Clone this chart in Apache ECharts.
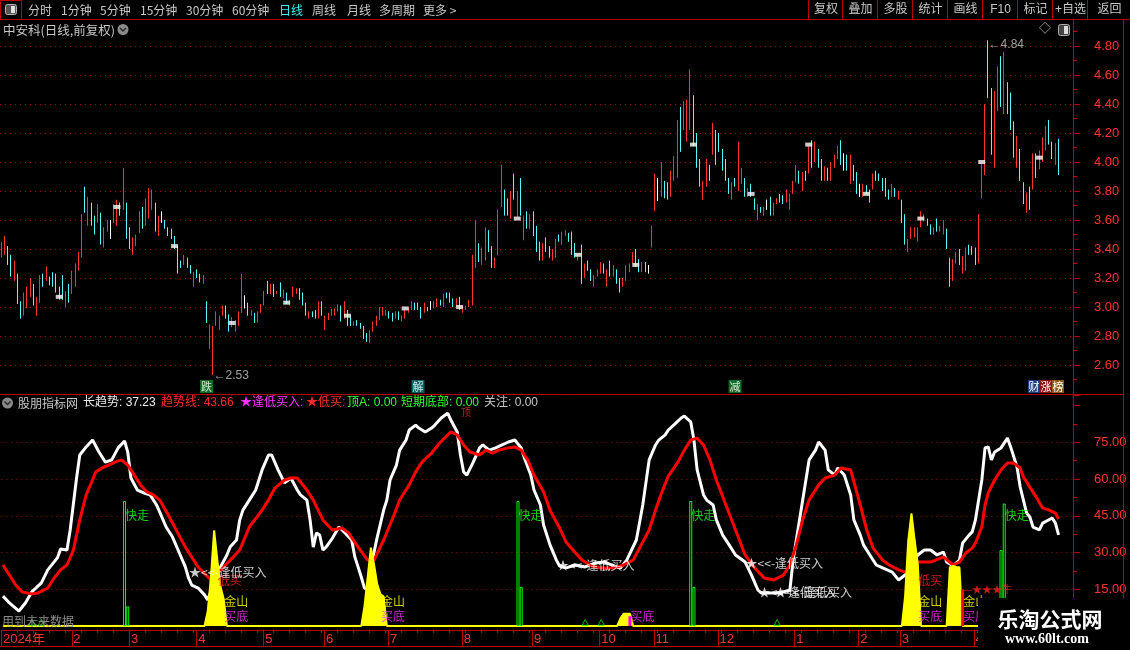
<!DOCTYPE html>
<html>
<head>
<meta charset="utf-8">
<title>中安科</title>
<script src="https://cdn.jsdelivr.net/npm/echarts/dist/echarts.min.js"></script>
<style>
html,body{margin:0;padding:0;background:#000;overflow:hidden}
#chart{width:1130px;height:650px}
</style>
</head>
<body>
<div id="chart"></div>
<script>
// ================= DATA =================
const categoryCount = 335;
// r = up (red), c = down (cyan), w = flat (white)
const barDir =
"rrccrccrrr"+"crrcrccccc"+"rcrrrrcrcc"+"rcrrwrrcrc"+"crrrcrrrcr"+
"wccccccrcc"+"rccrcrrrrr"+"ccrrrrwcrc"+"rrrcrcrcrc"+"rrrcccrccr"+
"crrrrrcrcc"+"rccccrrrrr"+"rccrcrrrrc"+"ccrcwrrcrc"+"ccrcrrrrrc"+
"rrccrrrccr"+"crcrcrcccr"+"ccrrcrrccc"+"rcrccrrrcr"+"crccrrrrcc"+
"rcwrrwrccr"+"rrcrrrcccr"+"rcrcccccrc"+"rrcrccrcrw"+"crrccrrrrc"+
"rcrcrccrcr"+"rrcwcrccwr"+"ccrcccccrc"+"rccrrrrrrc"+"crcrrccrrc"+
"rrcccrrrcc"+"rrcrcccrcc"+"rcrcrrrccrc";
const barHigh = [
3.45,3.49,3.42,3.36,3.32,3.23,3.04,3.10,3.14,3.20,
3.16,3.07,3.22,3.23,3.28,3.21,3.24,3.23,3.14,3.22,
3.11,3.16,3.25,3.30,3.38,3.64,3.83,3.76,3.72,3.63,
3.71,3.65,3.55,3.60,3.60,3.71,3.74,3.72,3.96,3.72,
3.55,3.48,3.50,3.66,3.69,3.75,3.82,3.81,3.72,3.63,
3.66,3.60,3.55,3.54,3.49,3.42,3.32,3.36,3.34,3.29,
3.24,3.26,3.23,3.22,3.04,2.88,2.87,2.97,2.94,3.01,
3.01,2.95,2.93,2.91,2.97,3.23,3.08,3.03,2.98,2.96,
2.97,3.02,3.11,3.18,3.16,3.16,3.11,3.17,3.12,3.10,
3.05,3.14,3.13,3.13,3.10,3.03,2.97,2.97,2.98,3.04,
3.04,2.94,2.96,2.99,2.99,3.02,3.01,3.04,2.98,2.94,
2.90,2.91,2.89,2.87,2.82,2.84,2.90,2.94,3.00,3.00,
2.98,2.97,2.96,2.97,2.97,2.94,2.99,3.00,3.04,3.03,
3.03,3.00,3.03,3.00,3.04,3.04,3.06,3.05,3.09,3.10,
3.10,3.06,3.06,3.07,3.01,3.01,3.05,3.36,3.60,3.44,
3.41,3.55,3.53,3.42,3.34,3.67,3.98,3.81,3.75,3.80,
3.92,3.80,3.89,3.63,3.66,3.64,3.66,3.56,3.45,3.44,
3.48,3.42,3.40,3.47,3.50,3.52,3.53,3.51,3.52,3.44,
3.37,3.43,3.30,3.32,3.26,3.22,3.26,3.31,3.30,3.26,
3.32,3.29,3.26,3.20,3.20,3.29,3.30,3.38,3.40,3.33,
3.31,3.31,3.29,3.56,3.92,3.89,4.00,3.87,3.86,3.94,
4.04,4.29,4.38,4.42,4.43,4.64,4.46,4.20,4.02,3.87,
4.02,3.98,4.27,4.22,4.20,4.09,4.02,3.89,3.86,3.89,
4.14,3.96,3.89,3.82,3.85,3.75,3.71,3.69,3.69,3.74,
3.76,3.72,3.75,3.78,3.77,3.81,3.78,3.87,3.98,3.94,
3.93,3.94,4.11,4.15,4.14,4.09,4.02,3.97,3.96,4.00,
4.05,4.11,4.15,4.06,4.05,4.05,3.98,3.93,3.85,3.85,
3.84,3.81,3.92,3.94,3.92,3.89,3.89,3.81,3.85,3.82,
3.80,3.74,3.64,3.47,3.55,3.55,3.55,3.66,3.64,3.61,
3.57,3.55,3.61,3.56,3.60,3.54,3.34,3.33,3.38,3.40,
3.35,3.41,3.43,3.42,3.41,3.64,3.99,4.40,4.84,4.51,
4.49,4.66,4.73,4.76,4.55,4.48,4.28,4.18,4.09,3.86,
3.79,3.83,4.06,4.06,4.08,4.17,4.25,4.29,4.14,4.13,4.16];
const barLow = [
3.34,3.36,3.29,3.21,3.18,3.02,2.92,2.94,2.99,3.07,
3.01,2.94,3.03,3.14,3.18,3.15,3.14,3.10,3.05,3.05,
3.00,3.03,3.09,3.14,3.25,3.34,3.65,3.56,3.56,3.50,
3.58,3.43,3.41,3.52,3.47,3.58,3.56,3.63,3.67,3.47,
3.40,3.36,3.42,3.51,3.54,3.56,3.61,3.67,3.52,3.49,
3.58,3.54,3.49,3.47,3.40,3.23,3.27,3.29,3.27,3.23,
3.14,3.20,3.17,3.16,2.89,2.71,2.53,2.87,2.84,2.94,
2.92,2.83,2.86,2.83,2.87,2.96,2.99,2.94,2.94,2.89,
2.89,2.96,3.01,3.09,3.09,3.07,3.09,3.07,3.06,3.02,
3.01,3.07,3.09,3.05,3.01,2.94,2.92,2.93,2.92,2.92,
2.94,2.84,2.91,2.94,2.94,2.97,2.90,2.92,2.87,2.87,
2.87,2.87,2.85,2.78,2.76,2.75,2.83,2.87,2.91,2.94,
2.94,2.92,2.90,2.92,2.91,2.90,2.92,2.96,2.98,2.98,
2.98,2.92,2.96,2.97,2.98,2.99,3.00,3.01,3.00,3.06,
3.03,3.00,3.00,2.98,2.96,2.98,3.00,3.01,3.27,3.31,
3.29,3.32,3.38,3.27,3.27,3.36,3.69,3.63,3.63,3.61,
3.74,3.62,3.63,3.46,3.54,3.54,3.49,3.38,3.32,3.32,
3.38,3.34,3.32,3.34,3.45,3.43,3.49,3.45,3.36,3.34,
3.32,3.16,3.20,3.25,3.18,3.14,3.21,3.23,3.23,3.14,
3.21,3.21,3.16,3.10,3.14,3.18,3.24,3.30,3.28,3.24,
3.24,3.24,3.23,3.41,3.66,3.73,3.76,3.75,3.74,3.76,
3.87,3.89,4.07,4.22,4.14,4.22,4.11,3.96,3.83,3.74,
3.83,3.87,4.05,3.98,4.07,3.94,3.87,3.78,3.74,3.83,
3.80,3.85,3.76,3.76,3.76,3.67,3.60,3.65,3.63,3.67,
3.63,3.63,3.71,3.72,3.71,3.72,3.67,3.78,3.86,3.85,
3.80,3.87,3.92,3.96,4.00,3.96,3.87,3.87,3.87,3.87,
3.96,4.02,3.98,3.94,3.94,3.85,3.87,3.78,3.76,3.76,
3.78,3.72,3.81,3.87,3.87,3.80,3.76,3.74,3.76,3.76,
3.74,3.58,3.43,3.38,3.47,3.48,3.45,3.55,3.59,3.56,
3.50,3.50,3.52,3.52,3.50,3.40,3.14,3.18,3.30,3.29,
3.23,3.25,3.36,3.36,3.29,3.30,3.75,3.91,4.44,4.05,
3.96,4.35,4.38,4.33,4.33,4.22,4.03,3.96,3.87,3.71,
3.65,3.67,3.81,3.89,3.95,4.00,4.08,4.12,4.02,3.98,3.91];
// white square markers [bar, price]
const squareMarks = [[18,3.07],[36,3.69],[54,3.42],[72,2.89],[89,3.03],[108,2.94],[126,2.99],[143,3.00],[161,3.61],[180,3.36],[198,3.29],[216,4.12],[234,3.78],[252,4.12],[270,3.78],[287,3.61],[306,4.00],[324,4.03]];
const lowMark = [66, 2.53];
const highMark = [308, 4.84];
// event boxes under the price panel
const eventBoxes = [[64,'跌','#118a2e'],[130,'解','#0e7d7d'],[229,'减','#118a2e']];

// indicator: 长趋势 (white) and 趋势线 (red), [bar, value]
const longTrend = [[0,12.2],[2,9.4],[5,6.1],[7,9.4],[9,13.9],[12,17.6],[14,22.9],[17,27.8],[18,31.4],[20,31.0],[21,39.2],[23,60.4],[24,69.8],[26,73.1],[28,75.9],[30,71.0],[32,66.9],[34,67.8],[36,72.7],[38,75.5],[39,71.0],[40,60.4],[42,55.5],[44,54.3],[46,53.5],[48,49.4],[49,46.5],[51,40.4],[53,36.3],[55,30.2],[57,24.1],[58,19.6],[59,16.7],[61,15.5],[63,12.7],[64,10.6],[66,17.6],[68,24.1],[70,29.0],[71,32.2],[73,35.1],[74,43.3],[75,47.3],[77,51.4],[79,55.5],[81,63.7],[83,69.8],[84,69.8],[86,63.7],[88,58.4],[90,60.4],[92,55.5],[93,53.5],[95,51.4],[96,43.3],[97,32.2],[98,38.0],[99,37.1],[100,31.0],[101,32.2],[103,35.9],[105,40.4],[106,39.2],[109,35.1],[110,28.2],[112,20.0],[113,15.5],[114,14.7],[115,24.1],[117,36.3],[119,47.3],[120,51.4],[121,59.6],[123,65.7],[124,71.8],[126,75.9],[127,80.0],[129,82.0],[130,80.8],[132,79.2],[134,80.8],[135,82.0],[137,84.9],[139,86.9],[140,84.1],[142,79.2],[143,69.8],[144,62.9],[145,61.6],[147,66.9],[149,72.7],[150,73.9],[152,71.8],[154,72.7],[156,73.9],[158,75.1],[160,75.9],[162,72.7],[163,68.6],[165,61.6],[166,55.5],[168,49.4],[169,41.2],[171,33.1],[173,26.9],[174,24.5],[176,23.7],[179,24.9],[182,24.1],[185,25.7],[188,26.1],[191,24.5],[193,23.7],[195,26.9],[198,35.1],[200,49.4],[202,67.8],[204,73.9],[205,75.9],[207,78.0],[208,80.0],[210,82.4],[212,84.9],[213,85.7],[215,83.3],[216,75.9],[217,63.7],[219,53.5],[220,51.4],[222,49.4],[223,43.3],[225,37.1],[227,33.1],[229,29.0],[232,26.1],[234,20.8],[236,14.7],[237,13.5],[240,13.5],[243,13.5],[246,14.7],[247,26.9],[249,43.3],[251,59.6],[252,67.8],[254,71.8],[255,75.1],[257,71.8],[258,63.7],[260,61.6],[261,64.5],[263,61.6],[265,53.5],[266,43.3],[268,37.1],[269,33.1],[271,29.0],[273,24.9],[275,23.7],[278,22.0],[280,18.8],[282,20.8],[284,24.9],[286,29.0],[288,31.0],[290,31.0],[292,29.0],[294,30.2],[295,26.1],[297,24.5],[299,26.9],[300,33.9],[302,37.1],[303,38.4],[304,43.3],[306,59.6],[307,72.7],[308,73.1],[309,67.8],[310,71.0],[312,72.7],[314,76.7],[315,73.1],[317,64.9],[318,56.7],[320,46.1],[321,44.5],[322,40.4],[324,39.2],[325,42.0],[328,44.1],[329,42.0],[330,37.23]];
const trendLine = [[0,24.9],[2,20.8],[4,16.7],[6,13.9],[9,13.1],[11,13.5],[14,15.5],[16,19.6],[18,22.9],[20,24.9],[22,31.0],[24,43.3],[26,53.5],[28,59.6],[29,62.9],[31,64.5],[33,65.7],[35,66.9],[37,67.8],[39,65.7],[40,63.7],[43,57.6],[45,54.7],[47,53.5],[49,51.4],[52,44.5],[57,32.2],[61,24.1],[65,18.8],[69,24.1],[72,28.2],[74,31.0],[77,40.4],[81,47.3],[83,51.4],[85,56.3],[88,59.6],[90,60.4],[92,60.4],[95,55.5],[97,51.4],[100,43.3],[103,39.2],[106,40.0],[108,38.0],[111,32.2],[114,26.9],[116,26.9],[119,35.1],[122,44.5],[124,51.4],[127,57.6],[129,62.9],[131,66.9],[134,70.6],[136,73.9],[138,76.7],[140,79.2],[142,78.0],[144,73.9],[146,71.0],[149,69.8],[151,71.8],[153,70.6],[155,71.8],[158,72.7],[160,73.1],[162,71.8],[164,67.8],[166,61.6],[169,54.7],[171,47.3],[174,40.0],[176,34.3],[179,29.8],[181,26.9],[184,24.5],[187,23.7],[190,23.7],[192,24.1],[194,24.9],[197,26.9],[199,31.8],[202,39.2],[204,47.3],[206,54.7],[208,61.2],[211,66.9],[213,71.8],[215,75.9],[217,76.7],[219,73.9],[221,67.8],[223,59.6],[226,49.4],[229,39.2],[232,29.0],[235,23.7],[238,19.6],[241,18.8],[244,20.8],[246,24.9],[248,33.1],[250,43.3],[252,51.4],[255,57.6],[257,60.4],[260,61.6],[262,64.5],[265,63.7],[266,58.8],[268,49.4],[270,39.2],[272,31.8],[275,26.9],[277,24.9],[280,22.9],[282,22.0],[284,23.7],[286,26.1],[290,26.1],[294,28.2],[297,24.9],[299,26.1],[301,29.8],[303,31.8],[304,33.9],[306,40.4],[307,49.4],[308,54.3],[310,59.6],[312,63.7],[314,66.5],[316,66.5],[318,64.5],[319,60.8],[321,56.7],[323,52.7],[325,48.2],[327,47.3],[329,46.1],[330,43.66]];
// yellow "金山" spikes (zero elsewhere)
const goldHill = [[0,0],[63,0],[64,6],[65,20],[66,39],[67,27],[68,16],[69,11],[70,0],[112,0],[113,8],[114,20],[115,32],[116,25],[117,17],[118,13],[119,12],[120,0],[192,0],[193,3],[194,5],[195,5],[196,5],[197,0],[281,0],[282,12],[283,35],[284,46],[285,35],[286,25],[287,0],[295,0],[296,24],[297,24.5],[298,24],[299,24],[300,0],[334,0]];
// 快走 signal columns [bar, value]
const quickBars = [[38,51],[39,8],[161,51],[162,16],[215,51],[216,16],[312,31],[313,50]];
const quickLabels = [[38,45],[161,45],[215,45],[313,45]];
const pinkBar = [196,4];
const redBar = [300,15];
const smallTriangles = [[9,1.5],[12,1.5],[182,1.5],[187,1.5],[242,1.5]];
const jinshanLabels = [[69,10.2],[118,10.2],[286,10.2],[300,10.2]];
const maidiLabels = [[69,4.1],[118,4.1],[196,4.1],[286,4.1],[300,4.1]];
const dimaiLabels = [[67,18.4],[286,18.4]];
const fengdiLabels = [[58,22.0],[173,24.9],[232,25.7],[236,13.5],[241,13.5]];
const starLabel = [300,15.1];
const topLabel = [143,87.3];
// axis tick labels
const monthStarts = [0,22,40,61,82,101,121,144,166,187,204,224,248,268,281,304];
const monthNames = ['2024年','2','3','4','5','6','7','8','9','10','11','12','1','2','3','4'];
const priceMin = 2.4, priceMax = 5.0, priceStep = 0.2;
const indMin = 0, indMax = 94, indStep = 15;

// ================= BUILD =================
const cats = Array.from({length: categoryCount}, (_, i) => String(i));
const monthMap = {};
monthStarts.forEach((m, k) => monthMap[m] = monthNames[k]);
const UP = '#ff3232', DN = '#54fcfc';
const candleData = barHigh.map((h, i) => {
  const l = barLow[i], d = barDir[i];
  if (d === 'r') return [l, h, l, h];
  if (d === 'c') return [h, l, l, h];
  const m = +((h + l) / 2).toFixed(3);
  return {value: [m, m, l, h], itemStyle: {color: '#fff', color0: '#fff', borderColor: '#fff', borderColor0: '#fff'}};
});
const NUMF = "'Liberation Sans','Noto Sans CJK SC'";
const CJK = "'Noto Sans CJK SC'";
const GRID_RED = '#8e1010';
const AX_RED = '#b80000';
const T0 = 'rgba(0,0,0,0)';
function splitColors(n) { const a = [T0]; for (let i = 0; i < n - 2; i++) a.push(GRID_RED); a.push(T0); return a; }
const nPriceLines = Math.round((priceMax - priceMin) / priceStep) + 1;
const nIndLines = Math.floor((indMax - indMin) / indStep) + 1;

function labelItems(list, text, color, size) {
  return list.map(p => ({value: p, label: {formatter: text, color: color, fontSize: size || 12}}));
}
const noteData = [].concat(
  labelItems(jinshanLabels, '金山', '#ffff00'),
  labelItems(maidiLabels, '买底', '#ff32ff'),
  labelItems(dimaiLabels, '低买', '#ff2020'),
  labelItems(fengdiLabels, '★<<-逢低买入', '#ffffff'),
  labelItems(quickLabels, '快走', '#22ff22'),
  [{value: starLabel, label: {formatter: '—★★★牛', color: '#ff2020', fontSize: 10}}],
  [{value: topLabel, label: {formatter: '顶', color: '#ff2020', fontSize: 10}}]
);
const signalData = quickBars.map(p => ({value: p, itemStyle: {color: T0, borderColor: '#00ff00', borderWidth: 1}}))
  .concat([{value: pinkBar, itemStyle: {color: '#ff00ff'}}, {value: redBar, itemStyle: {color: '#ff0000'}}]);

// ================= GRAPHICS (chrome) =================
const G = [];
function txt(x, y, text, fill, size, align, font, weight) {
  G.push({type: 'text', x: x, y: y, z: 110, silent: true, style: {
    text: text, fill: fill, font: (weight || 'normal') + ' ' + (size || 12) + 'px ' + (font || NUMF),
    textAlign: align || 'left', textVerticalAlign: 'middle', align: align || 'left', verticalAlign: 'middle'}});
}
function ln(x1, y1, x2, y2, c, w, z) {
  G.push({type: 'line', z: z || 105, silent: true, shape: {x1: x1, y1: y1, x2: x2, y2: y2}, style: {stroke: c, lineWidth: w || 1}});
}
function rect(x, y, w, h, fill, stroke, z) {
  G.push({type: 'rect', z: z || 104, silent: true, shape: {x: x, y: y, width: w, height: h}, style: {fill: fill, stroke: stroke || null, lineWidth: 1}});
}
// toolbar
rect(0, 0, 1130, 20, '#000', null, 100);
ln(0, 19.5, 1130, 19.5, AX_RED);
rect(0.5, 0.5, 21, 19, T0, AX_RED, 105);
G.push({type: 'rect', z: 106, silent: true, shape: {x: 5.5, y: 4.5, width: 11, height: 10, r: 2}, style: {fill: '#555', stroke: '#b4b4b4', lineWidth: 1}});
rect(11, 6, 4, 7, '#e0e0e0', null, 107);
const tbItems = [[28,'分时'],[61,'1分钟'],[100,'5分钟'],[140,'15分钟'],[186,'30分钟'],[232,'60分钟'],[279,'日线'],[312,'周线'],[347,'月线'],[379,'多周期'],[423,'更多 >']];
tbItems.forEach(it => txt(it[0], 10, it[1], it[1] === '日线' ? '#40f0f0' : '#c8c8c8', 12, 'left', CJK));
const seps = [808, 842, 877, 912, 947, 982, 1017, 1052, 1087, 1130];
const btns = ['复权','叠加','多股','统计','画线','F10','标记','+自选','返回'];
seps.forEach((s, k) => { if (k < seps.length - 1) ln(s + 0.5, 0, s + 0.5, 19.5, AX_RED); });
btns.forEach((b, k) => txt((seps[k] + seps[k + 1]) / 2 + 1, 10, b, '#c8c8c8', 12, 'center', NUMF));
// title
txt(3, 30, '中安科(日线,前复权)', '#c8c8c8', 12.5, 'left', CJK);
G.push({type: 'circle', z: 106, silent: true, shape: {cx: 123, cy: 29.5, r: 5.5}, style: {fill: '#8a8a8a'}});
G.push({type: 'polyline', z: 107, silent: true, shape: {points: [[120, 28], [123, 31], [126, 28]]}, style: {stroke: '#2a2a2a', lineWidth: 1.5, fill: null}});
txt(1045, 30, '◇', '#b4b4b4', 12, 'center', NUMF);
G.push({type: 'rect', z: 106, silent: true, shape: {x: 1058.5, y: 24.5, width: 11, height: 11, r: 2}, style: {fill: '#444', stroke: '#aaa', lineWidth: 1}});
rect(1064, 26, 4, 8, '#ddd', null, 107);
// frame lines
ln(1073.5, 20, 1073.5, 650, AX_RED);
ln(1123.5, 20, 1123.5, 650, AX_RED);
ln(0, 394.5, 1123.5, 394.5, AX_RED);
ln(0, 646.5, 1073.5, 646.5, AX_RED);
// 财涨榜 badge
rect(1028, 380, 12, 13, '#1d3f80', null, 104);
rect(1040, 380, 12, 13, '#8e1212', null, 104);
rect(1052, 380, 12, 13, '#8e5a12', null, 104);
txt(1034, 387, '财', '#fff', 11, 'center', CJK);
txt(1046, 387, '涨', '#fff', 11, 'center', CJK);
txt(1058, 387, '榜', '#fff', 11, 'center', CJK);
// indicator legend row
G.push({type: 'circle', z: 106, silent: true, shape: {cx: 7.5, cy: 403, r: 5.5}, style: {fill: '#8a8a8a'}});
G.push({type: 'polyline', z: 107, silent: true, shape: {points: [[4.5, 401.5], [7.5, 404.5], [10.5, 401.5]]}, style: {stroke: '#2a2a2a', lineWidth: 1.5, fill: null}});
txt(18, 403, '股朋指标网', '#c8c8c8', 12, 'left', CJK);
txt(83, 403, '长趋势: ' + longTrend[longTrend.length - 1][1].toFixed(2), '#ececec', 12);
txt(161, 403, '趋势线: ' + trendLine[trendLine.length - 1][1].toFixed(2), '#ff2828', 12);
txt(240, 403, '★逢低买入:', '#ff32ff', 12);
txt(306, 403, '★低买:', '#ff2828', 12);
txt(347, 403, '顶A: 0.00', '#32ff32', 12);
txt(401, 403, '短期底部: 0.00', '#32ff32', 12);
txt(484, 403, '关注: 0.00', '#c8c8c8', 12);
txt(2, 621, '用到未来数据', '#8c8c8c', 12, 'left', CJK);
// watermark box
rect(978, 598, 152, 52, '#000', null, 120);
G.push({type: 'text', x: 1050, y: 619, z: 121, silent: true, style: {text: '乐淘公式网', fill: '#fff', font: 'bold 21px ' + CJK, textAlign: 'center', textVerticalAlign: 'middle', align: 'center', verticalAlign: 'middle'}});
G.push({type: 'text', x: 1047, y: 639, z: 121, silent: true, style: {text: 'www.60lt.com', fill: '#fff', font: 'bold 14px "Liberation Serif"', textAlign: 'center', textVerticalAlign: 'middle', align: 'center', verticalAlign: 'middle'}});

// ================= OPTION =================
const chart = echarts.init(document.getElementById('chart'), null, {renderer: 'canvas'});
const option = {
  backgroundColor: '#000',
  animation: false,
  textStyle: {fontFamily: NUMF},
  grid: [
    {left: 0, right: 57, top: 17, height: 377},
    {left: 0, right: 57, top: 395.7, bottom: 24}
  ],
  xAxis: [
    {type: 'category', gridIndex: 0, data: cats, boundaryGap: true, show: false},
    {type: 'category', gridIndex: 1, data: cats, boundaryGap: true, axisLine: {show: false}, axisTick: {show: false}, axisLabel: {show: false}},
    {type: 'category', gridIndex: 1, data: cats, boundaryGap: true, position: 'bottom', offset: 4,
      axisLine: {show: true, lineStyle: {color: AX_RED, width: 1}},
      axisTick: {show: true, length: 16, lineStyle: {color: AX_RED}, interval: (i) => monthMap[i] !== undefined},
      axisLabel: {show: true, interval: (i) => monthMap[i] !== undefined, formatter: (v, i) => monthMap[i] || '',
        color: '#ff3232', fontSize: 13, align: 'left', margin: 3, fontFamily: NUMF}},
    {type: 'category', gridIndex: 1, data: cats, boundaryGap: true, position: 'bottom', offset: 4,
      axisLine: {show: false},
      axisTick: {show: true, length: 3, lineStyle: {color: AX_RED}, interval: (i) => i % 5 === 0 && monthMap[i] === undefined},
      axisLabel: {show: false}}
  ],
  yAxis: [
    {type: 'value', gridIndex: 0, position: 'right', min: priceMin, max: priceMax, interval: priceStep,
      axisLine: {show: true, lineStyle: {color: AX_RED}},
      axisTick: {show: true, length: 7, lineStyle: {color: AX_RED}},
      minorTick: {show: true, splitNumber: 2, length: 4, lineStyle: {color: AX_RED}},
      axisLabel: {color: '#ff3232', fontSize: 13, margin: 21, fontFamily: NUMF,
        formatter: v => (v < 2.55 || v > 4.85) ? '' : v.toFixed(2)},
      splitLine: {show: true, lineStyle: {color: splitColors(nPriceLines), type: [1, 4], width: 1}},
      minorSplitLine: {show: false}},
    {type: 'value', gridIndex: 1, position: 'right', min: indMin, max: indMax, interval: indStep,
      axisLine: {show: true, lineStyle: {color: AX_RED}},
      axisTick: {show: true, length: 7, lineStyle: {color: AX_RED}},
      minorTick: {show: true, splitNumber: 2, length: 4, lineStyle: {color: AX_RED}},
      axisLabel: {color: '#ff3232', fontSize: 13, margin: 21, fontFamily: NUMF,
        formatter: v => (v >= 14 && v <= 76) ? v.toFixed(2) : ''},
      splitLine: {show: true, lineStyle: {color: splitColors(nIndLines), type: [1, 4], width: 1}}}
  ],
  series: [
    {type: 'candlestick', name: 'K', xAxisIndex: 0, yAxisIndex: 0, data: candleData, barWidth: 1,
      itemStyle: {color: UP, color0: DN, borderColor: UP, borderColor0: DN, borderWidth: 1}, z: 3},
    {type: 'scatter', xAxisIndex: 0, yAxisIndex: 0, data: squareMarks, symbol: 'rect', symbolSize: [7, 4],
      itemStyle: {color: '#ffffff'}, z: 4},
    {type: 'scatter', xAxisIndex: 0, yAxisIndex: 0, symbol: 'circle', symbolSize: 1, itemStyle: {color: T0},
      data: [
        {value: lowMark, label: {formatter: '←' + lowMark[1].toFixed(2), offset: [0, 1]}},
        {value: highMark, label: {formatter: '←' + highMark[1].toFixed(2), offset: [0, 4]}}
      ],
      label: {show: true, position: 'right', distance: 0, color: '#c8c8c8', fontSize: 12, fontFamily: NUMF}, z: 5},
    {type: 'scatter', xAxisIndex: 0, yAxisIndex: 0, symbol: 'rect', symbolSize: [13, 13],
      data: eventBoxes.map(e => ({value: [e[0], 2.452], itemStyle: {color: e[2]}, label: {formatter: e[1]}})),
      label: {show: true, position: 'inside', color: '#fff', fontSize: 11, fontFamily: CJK}, z: 5},
    {type: 'line', name: '长趋势', xAxisIndex: 1, yAxisIndex: 1, data: longTrend, showSymbol: false,
      lineStyle: {color: '#ffffff', width: 3}, z: 3},
    {type: 'line', name: '趋势线', xAxisIndex: 1, yAxisIndex: 1, data: trendLine, showSymbol: false,
      lineStyle: {color: '#ff0000', width: 3}, z: 4},
    {type: 'line', name: '金山', xAxisIndex: 1, yAxisIndex: 1, data: goldHill, showSymbol: false,
      lineStyle: {color: '#ffff00', width: 2}, areaStyle: {color: '#ffff00', opacity: 1}, z: 5},
    {type: 'bar', xAxisIndex: 1, yAxisIndex: 1, data: signalData, barWidth: 3, z: 6},
    {type: 'scatter', xAxisIndex: 1, yAxisIndex: 1, data: smallTriangles, symbol: 'triangle', symbolSize: 6,
      itemStyle: {color: T0, borderColor: '#00e000', borderWidth: 1}, z: 6},
    {type: 'scatter', xAxisIndex: 1, yAxisIndex: 1, data: noteData, symbol: 'circle', symbolSize: 1,
      itemStyle: {color: T0},
      label: {show: true, position: 'right', distance: 0, fontFamily: CJK}, z: 8}
  ],
  graphic: {elements: G}
};
chart.setOption(option);
</script>
</body>
</html>
